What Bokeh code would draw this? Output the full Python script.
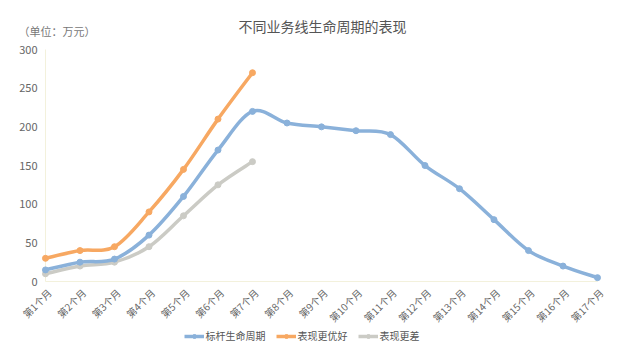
import math
from bokeh.plotting import figure
from bokeh.models import Range1d, Legend, LegendItem, Label, ColumnDataSource
from bokeh.core.properties import value
from bokeh.embed import file_html
from bokeh.resources import INLINE

months = ["第1个月", "第2个月", "第3个月", "第4个月", "第5个月", "第6个月", "第7个月", "第8个月",
          "第9个月", "第10个月", "第11个月", "第12个月", "第13个月", "第14个月", "第15个月", "第16个月", "第17个月"]
benchmark = [15, 25, 29, 60, 110, 170, 220, 205, 200, 195, 190, 150, 120, 80, 40, 20, 5]
better = [30, 40, 45, 90, 145, 210, 270]
worse = [10, 20, 25, 45, 85, 125, 155]
y_ticks = [0, 50, 100, 150, 200, 250, 300]
series_names = ["标杆生命周期", "表现更优好", "表现更差"]
colors = ["#8ab1da", "#f7a862", "#cbcbc5"]
FONT = "Noto Sans CJK SC"
TEXT = "#666666"

# canvas 618x351; the frame covers the whole canvas except a thin right margin
p = figure(width=618, height=351, output_backend="svg", toolbar_location=None, title=None,
           x_range=Range1d(-1.304, 16.174), y_range=Range1d(-90.5, 363.4))
p.min_border_left = 0
p.min_border_right = 15
p.min_border_top = 0
p.min_border_bottom = 0
p.outline_line_color = None
p.xgrid.grid_line_color = None
p.ygrid.grid_line_color = None
p.background_fill_color = "white"
p.border_fill_color = "white"
p.xaxis.visible = False
p.yaxis.visible = False

n = len(months)
# faint axis lines
p.segment(x0=[0, 0], y0=[0, 0], x1=[0, n - 1], y1=[y_ticks[-1], 0], line_color="#f3f1dc", line_width=1)

# y tick labels
ylab = ColumnDataSource(dict(x=[0] * len(y_ticks), y=y_ticks, t=[str(v) for v in y_ticks]))
p.text(x="x", y="y", text="t", source=ylab, text_align="right", text_baseline="middle",
       x_offset=-8, text_font=value(FONT), text_font_size="11px", text_color=TEXT)

def bezier_segments(ys):
    xs = list(range(len(ys)))
    m = len(ys)
    d = dict(x0=[], y0=[], x1=[], y1=[], cx0=[], cy0=[], cx1=[], cy1=[])
    for i in range(m - 1):
        xm, ym = (xs[i - 1], ys[i - 1]) if i > 0 else (xs[i], ys[i])
        xp2, yp2 = (xs[i + 2], ys[i + 2]) if i + 2 < m else (xs[i + 1], ys[i + 1])
        d["x0"].append(xs[i]); d["y0"].append(ys[i])
        d["x1"].append(xs[i + 1]); d["y1"].append(ys[i + 1])
        d["cx0"].append(xs[i] + (xs[i + 1] - xm) / 6.0)
        d["cy0"].append(ys[i] + (ys[i + 1] - ym) / 6.0)
        d["cx1"].append(xs[i + 1] - (xp2 - xs[i]) / 6.0)
        d["cy1"].append(ys[i + 1] - (yp2 - ys[i]) / 6.0)
    return ColumnDataSource(d)

items = {}
for name, ys, c in reversed(list(zip(series_names, [benchmark, better, worse], colors))):
    b = p.bezier(x0="x0", y0="y0", x1="x1", y1="y1", cx0="cx0", cy0="cy0", cx1="cx1", cy1="cy1",
                 source=bezier_segments(ys), line_color=c, line_width=3.5)
    s = p.scatter(list(range(len(ys))), ys, size=6, color=c)
    items[name] = LegendItem(label=name, renderers=[b, s])

# category labels under the baseline (rotated 45 degrees)
lab = ColumnDataSource(dict(x=list(range(n)), y=[0] * n, t=months))
p.text(x="x", y="y", text="t", source=lab, angle=math.pi / 4, text_align="right",
       text_baseline="middle", x_offset=4, y_offset=9, text_font=value(FONT),
       text_font_size="10px", text_color=TEXT)

legend = Legend(items=[items[nm] for nm in series_names], orientation="horizontal",
                location="bottom_center",
                label_text_font=FONT, label_text_font_size="10px", label_text_color="#555555",
                glyph_width=20, glyph_height=10, spacing=10, label_standoff=2, label_height=12,
                border_line_color=None, background_fill_alpha=0, padding=2, margin=8)
p.add_layout(legend, "center")

# title and unit (screen units relative to the frame's bottom-left)
p.add_layout(Label(x=322, y=326, x_units="screen", y_units="screen", text="不同业务线生命周期的表现",
                   text_font=FONT, text_font_size="14px", text_color="#555555",
                   text_align="center", text_baseline="middle"))
p.add_layout(Label(x=18, y=321, x_units="screen", y_units="screen", text="（单位：万元）",
                   text_font=FONT, text_font_size="11px", text_color="#777777",
                   text_align="left", text_baseline="middle"))

open("out.html", "w").write(file_html(p, INLINE))
